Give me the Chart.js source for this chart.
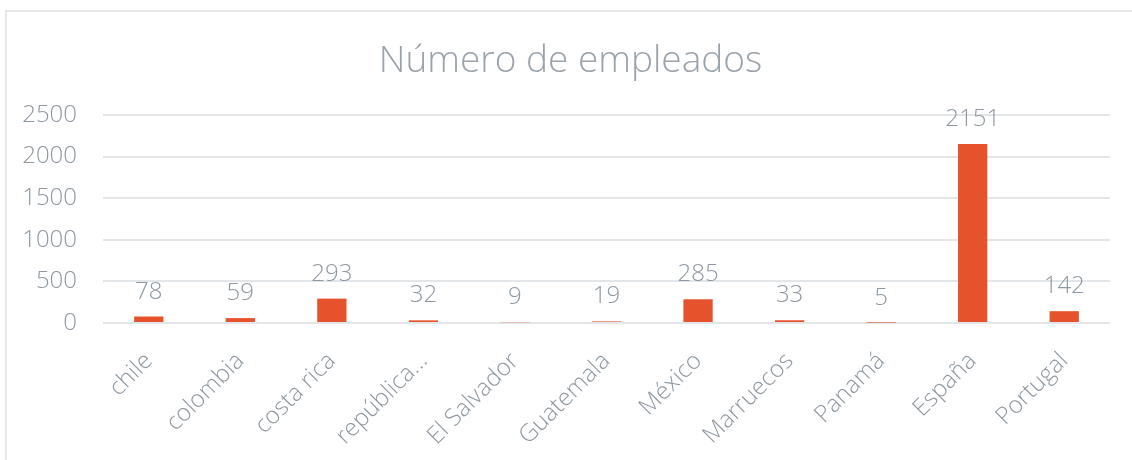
<!DOCTYPE html>
<html>
<head>
<meta charset="utf-8">
<script src="https://cdn.jsdelivr.net/npm/chart.js@4.4.1/dist/chart.umd.min.js"></script>
<style>
  html, body { margin: 0; padding: 0; background: #fff; }
  #wrap { position: absolute; left: 0; top: 0; width: 1132px; height: 460px; }
  #frame { position: absolute; left: 5px; top: 10px; width: 1140px; height: 470px; border: 2px solid #e6e8e8; box-sizing: border-box; }
  canvas { position: absolute; left: 0; top: 0; }
</style>
</head>
<body>
<div id="wrap">
  <div id="frame"></div>
  <canvas id="c" width="1132" height="460"></canvas>
</div>
<script>
const categories = ["chile", "colombia", "costa rica", "república...", "El Salvador", "Guatemala", "México", "Marruecos", "Panamá", "España", "Portugal"];
const empleados = [78, 59, 293, 32, 9, 19, 285, 33, 5, 2151, 142];
const yTicks = [0, 500, 1000, 1500, 2000, 2500];
const chartTitle = "Número de empleados";

const FONT = "'Open Sans', 'Noto Sans', sans-serif";
const TEXT = '#8e98a2';

const valueLabels = {
  id: 'valueLabels',
  afterDatasetsDraw(chart) {
    const ctx = chart.ctx;
    const meta = chart.getDatasetMeta(0);
    ctx.save();
    ctx.font = '300 24px ' + FONT;
    ctx.fillStyle = TEXT;
    ctx.textAlign = 'center';
    ctx.textBaseline = 'alphabetic';
    meta.data.forEach((bar, i) => {
      ctx.fillText(String(empleados[i]), bar.x, bar.y - 18);
    });
    ctx.restore();
  }
};

new Chart(document.getElementById('c'), {
  type: 'bar',
  data: {
    labels: categories,
    datasets: [{
      data: empleados,
      backgroundColor: '#E6522C',
      borderWidth: 0,
      barPercentage: 0.32,
      categoryPercentage: 1.0,
      yAxisID: 'y'
    }]
  },
  options: {
    responsive: false,
    animation: false,
    devicePixelRatio: 1,
    layout: { padding: { left: 23, right: 14, top: 0, bottom: 0 } },
    plugins: {
      legend: { display: false },
      tooltip: { enabled: false },
      title: {
        display: true,
        text: chartTitle,
        color: '#9aa3ac',
        font: { family: FONT, size: 37, weight: '300', lineHeight: 1.2 },
        padding: { top: 39, bottom: 31.6 }
      }
    },
    scales: {
      x: {
        grid: { display: false },
        border: { display: false },
        ticks: {
          color: TEXT,
          font: { family: FONT, size: 24, weight: '300' },
          minRotation: 45,
          maxRotation: 45,
          autoSkip: false,
          padding: 16
        },
        afterFit(scale) { scale.height = 137; }
      },
      y: {
        min: 0,
        max: 2500,
        afterBuildTicks(scale) { scale.ticks = yTicks.map(v => ({ value: v })); },
        grid: { color: '#e3e6e8', lineWidth: 2, drawTicks: false },
        border: { display: false },
        ticks: {
          color: TEXT,
          font: { family: FONT, size: 24, weight: '300' },
          padding: 26,
          callback: (v) => String(v)
        },
        afterFit(scale) { scale.width = 80; }
      },
      spacer: {
        type: 'linear',
        position: 'right',
        min: 0,
        max: 2500,
        grid: { display: false },
        border: { display: false },
        ticks: { display: false },
        afterFit(scale) { scale.width = 8; }
      }
    }
  },
  plugins: [valueLabels]
});
</script>
</body>
</html>
